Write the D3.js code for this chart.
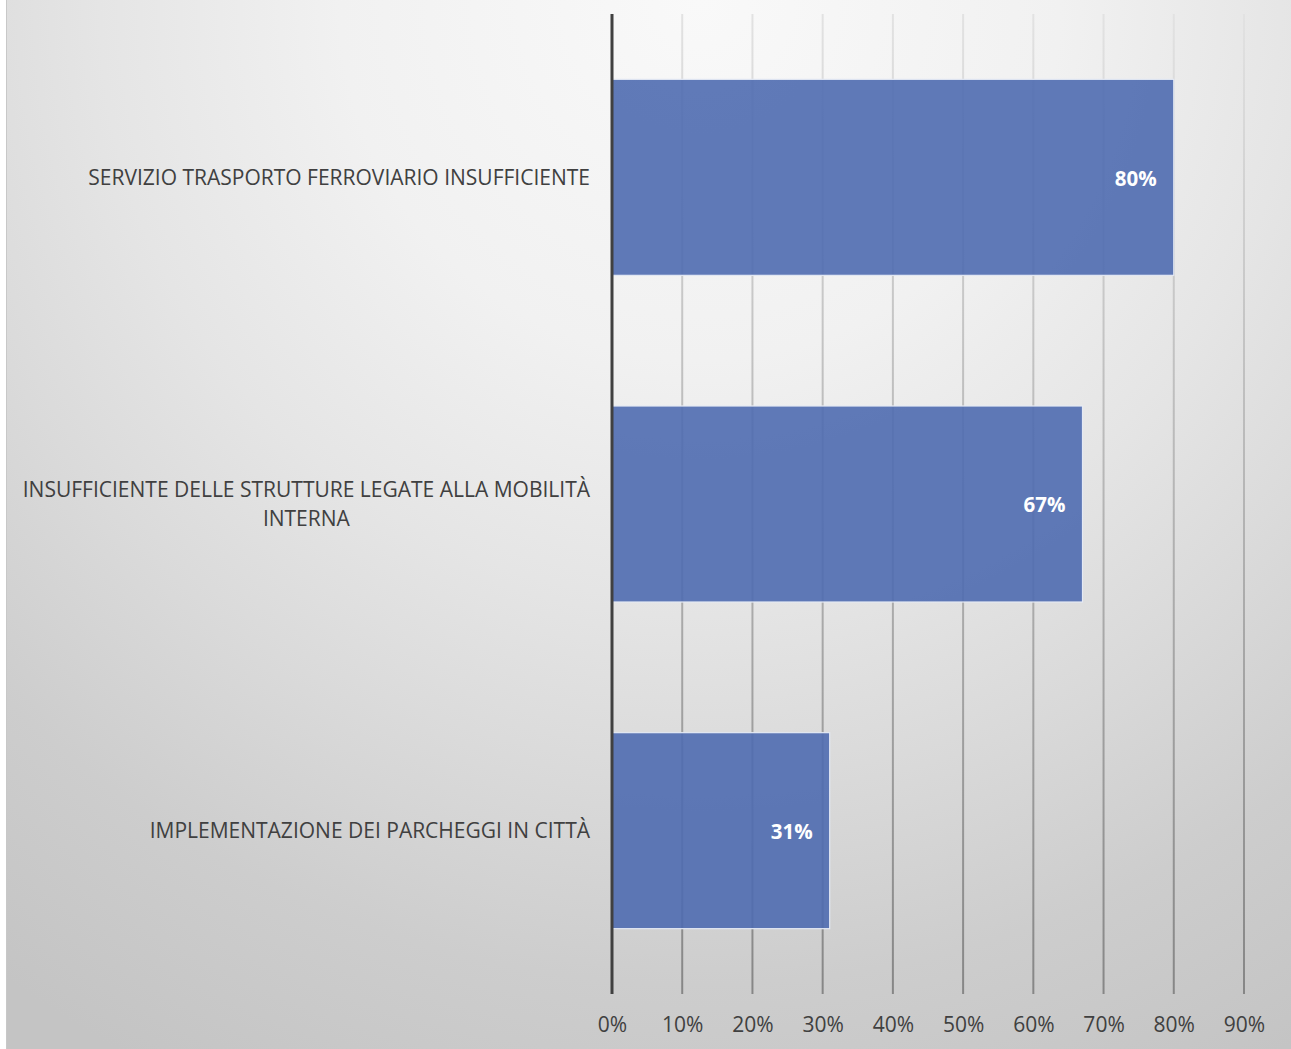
<!DOCTYPE html>
<html>
<head>
<meta charset="utf-8">
<script src="https://cdn.jsdelivr.net/npm/d3@7"></script>
<style>
  html, body { margin: 0; padding: 0; background: #ffffff; }
  svg { display: block; }
  text { font-family: "Open Sans", "Noto Sans", sans-serif; }
</style>
</head>
<body>
<svg id="chart" width="1291" height="1049"></svg>
<script>
// Survey results: share of respondents per mobility issue
const categories = [
  "SERVIZIO TRASPORTO FERROVIARIO INSUFFICIENTE",
  "INSUFFICIENTE DELLE STRUTTURE LEGATE ALLA MOBILITÀ INTERNA",
  "IMPLEMENTAZIONE DEI PARCHEGGI IN CITTÀ"
];
const values = [0.80, 0.67, 0.31];
const tickValues = [0, 0.1, 0.2, 0.3, 0.4, 0.5, 0.6, 0.7, 0.8, 0.9];

const W = 1291, H = 1049;
const plot = { left: 612, right: 1244, top: 14, bottom: 994 };

const svg = d3.select("#chart");
const defs = svg.append("defs");

// Soft radial backdrop, lightest near the top centre
const bg = defs.append("radialGradient")
  .attr("id", "bgGrad")
  .attr("gradientUnits", "userSpaceOnUse")
  .attr("cx", 700).attr("cy", 0).attr("r", 1200);
[[0, "#f9f9f9"], [0.3, "#f1f1f1"], [0.5, "#e5e5e5"], [0.65, "#dadada"],
 [0.82, "#cdcdcd"], [1, "#c4c4c4"]].forEach(([o, c]) =>
  bg.append("stop").attr("offset", o).attr("stop-color", c));

// Gridlines fade from light at the top to darker at the bottom
const gg = defs.append("linearGradient")
  .attr("id", "gridGrad")
  .attr("gradientUnits", "userSpaceOnUse")
  .attr("x1", 0).attr("y1", plot.top).attr("x2", 0).attr("y2", plot.bottom);
gg.append("stop").attr("offset", 0).attr("stop-color", "#e2e2e2");
gg.append("stop").attr("offset", 0.5).attr("stop-color", "#b4b4b4");
gg.append("stop").attr("offset", 1).attr("stop-color", "#868686");

svg.append("rect")
  .attr("x", 6.5).attr("y", -1).attr("width", W + 2).attr("height", H + 2)
  .attr("fill", "url(#bgGrad)")
  .attr("stroke", "#c8c8c8").attr("stroke-width", 1);

const x = d3.scaleLinear().domain([0, 0.9]).range([plot.left, plot.right]);
const y = d3.scaleBand().domain(categories).range([plot.top, plot.bottom]).paddingInner(0.4).paddingOuter(0.2);

// Vertical gridlines
svg.append("g")
  .selectAll("line")
  .data(tickValues.filter(d => d > 0))
  .join("line")
  .attr("x1", d => x(d)).attr("x2", d => x(d))
  .attr("y1", plot.top).attr("y2", plot.bottom)
  .attr("stroke", "url(#gridGrad)")
  .attr("stroke-width", 2);

// Bars
svg.append("g")
  .selectAll("rect")
  .data(values)
  .join("rect")
  .attr("x", x(0))
  .attr("y", (d, i) => y(categories[i]))
  .attr("width", d => x(d) - x(0))
  .attr("height", y.bandwidth())
  .attr("fill", "#4f6bb0")
  .attr("fill-opacity", 0.9)
  .attr("stroke", "#e4e9f4")
  .attr("stroke-width", 1.2);

// Value labels inside bar ends
svg.append("g")
  .selectAll("text")
  .data(values)
  .join("text")
  .attr("x", d => x(d) - 17)
  .attr("y", (d, i) => y(categories[i]) + y.bandwidth() / 2 + 1)
  .attr("dy", "0.35em")
  .attr("text-anchor", "end")
  .attr("fill", "#ffffff")
  .attr("font-weight", 700)
  .attr("font-size", 20.5)
  .text(d => Math.round(d * 100) + "%");

// Category axis line
svg.append("line")
  .attr("x1", plot.left).attr("x2", plot.left)
  .attr("y1", plot.top).attr("y2", plot.bottom)
  .attr("stroke", "#404040").attr("stroke-width", 3);

// Percentage tick labels along the bottom
const xAxis = d3.axisBottom(x)
  .tickValues(tickValues)
  .tickFormat(d3.format(".0%"))
  .tickSize(0)
  .tickPadding(0);
const ax = svg.append("g")
  .attr("transform", `translate(0,${plot.bottom + 23})`)
  .call(xAxis);
ax.select(".domain").remove();
ax.selectAll("text")
  .attr("font-family", "\"Open Sans\", sans-serif")
  .attr("font-size", 21)
  .attr("fill", "#404040");

// Category labels, wrapped and right-aligned against the axis
const labelRight = 590, labelMax = 590, lineH = 29;
const labels = svg.append("g")
  .attr("font-size", 21)
  .attr("fill", "#404040");

categories.forEach(cat => {
  const g = labels.append("g");
  const probe = g.append("text");
  const words = cat.split(" ");
  const lines = [];
  let cur = [];
  words.forEach(w => {
    const test = cur.concat(w).join(" ");
    probe.text(test);
    if (probe.node().getComputedTextLength() > labelMax && cur.length) {
      lines.push(cur.join(" "));
      cur = [w];
    } else cur.push(w);
  });
  lines.push(cur.join(" "));
  const widths = lines.map(l => { probe.text(l); return probe.node().getComputedTextLength(); });
  probe.remove();
  const blockW = d3.max(widths);
  const cx = labelRight - blockW / 2;
  const cy = y(cat) + y.bandwidth() / 2;
  lines.forEach((l, i) => {
    g.append("text")
      .attr("x", cx)
      .attr("y", cy + (i - (lines.length - 1) / 2) * lineH)
      .attr("dy", "0.35em")
      .attr("text-anchor", "middle")
      .text(l);
  });
});
</script>
</body>
</html>
